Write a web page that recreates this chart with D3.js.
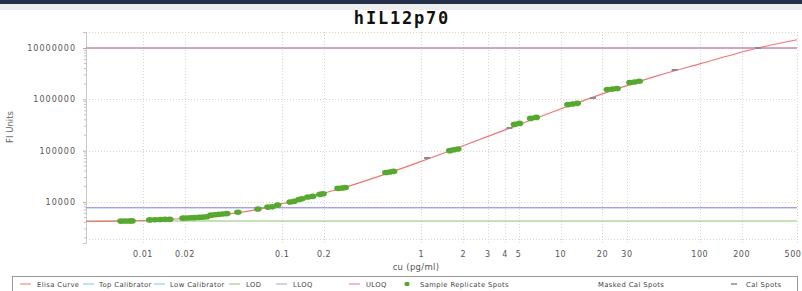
<!DOCTYPE html>
<html>
<head>
<meta charset="utf-8">
<script src="https://cdn.jsdelivr.net/npm/d3@7"></script>
<style>
  body { margin: 0; background: #fff; }
  svg { display: block; }
</style>
</head>
<body>
<div id="chart"></div>
<script>
'use strict';
// ---- data ----
const title = "hIL12p70";
const xTickValues = [0.01, 0.02, 0.1, 0.2, 1, 2, 3, 4, 5, 10, 20, 30, 100, 200, 500];
const yTickValues = [10000, 100000, 1000000, 10000000];

// fitted elisa curve, sampled (concentration, signal)
const curveConc = [0.0039, 0.008, 0.015, 0.025, 0.04, 0.06, 0.1, 0.15, 0.25, 0.5, 1, 2, 5, 10, 20, 50, 100, 262, 500];
const curveSignal = [4170, 4280, 4560, 5050, 5800, 6800, 9300, 12300, 17500, 32000, 62000, 125000, 320000, 650000, 1280000, 2900000, 4900000, 10000000, 14500000];

// sample replicate spots
const sampleConc = [0.00695, 0.00743, 0.00794, 0.00834,
  0.0112, 0.0122, 0.0133, 0.0144, 0.0156,
  0.0194, 0.0207, 0.0221, 0.0236, 0.0253, 0.0270, 0.0288,
  0.0308, 0.0329, 0.0351, 0.0375, 0.0401,
  0.0481, 0.067, 0.079, 0.085, 0.093, 0.114, 0.122, 0.132, 0.139,
  0.153, 0.166, 0.187, 0.197, 0.252, 0.270, 0.284,
  0.556, 0.593, 0.632, 1.60, 1.71, 1.83,
  4.67, 5.07, 6.1, 6.7, 11.3, 12.2, 13.2,
  21.7, 23.6, 25.5, 31.5, 34.0, 36.8];
const sampleSignal = [4250, 4260, 4270, 4280,
  4480, 4520, 4560, 4590, 4620,
  4850, 4890, 4930, 4970, 5020, 5080, 5150,
  5550, 5650, 5750, 5850, 5950,
  6300, 7310, 7950, 8050, 8740, 10000, 10300, 11200, 11600,
  12500, 12900, 14100, 14500, 18400, 18800, 19200,
  37500, 38400, 39500, 100000, 104000, 108000,
  325000, 340000, 425000, 445000, 790000, 811000, 835000,
  1550000, 1590000, 1630000, 2120000, 2180000, 2250000];

// calibrator spots
const calConc = [1.1, 4.3, 17.1, 66, 262];
const calSignal = [72000, 277000, 1060000, 3730000, 10000000];

// horizontal limits
const limitNames = ["Top Calibrator", "Low Calibrator", "ULOQ", "LLOQ", "LOD"];
const limitValues = [10000000, 7750, 10000000, 7750, 4270];

const legendNames = ["Elisa Curve", "Top Calibrator", "Low Calibrator", "LOD", "LLOQ", "ULOQ",
  "Sample Replicate Spots", "Masked Cal Spots", "Cal Spots"];

// ---- styles ----
const colors = {
  "Elisa Curve": "#f07474",
  "Top Calibrator": "#7cc8e8",
  "Low Calibrator": "#7cc8e8",
  "LOD": "#8cc46c",
  "LLOQ": "#aa9eea",
  "ULOQ": "#ea6f9a",
  "Sample Replicate Spots": "#56a92e",
  "Masked Cal Spots": "none",
  "Cal Spots": "#8a8a8a"
};

let width = 802, height = 291;
let mLeft = 86, mRight = 797, mTop = 32, mBottom = 243;

let svg = d3.select("#chart").append("svg")
  .attr("width", width)
  .attr("height", height)
  .style("font-family", "'DejaVu Sans', sans-serif");

// screenshot band at the top
svg.append("rect").attr("x", 0).attr("y", 0).attr("width", width).attr("height", 4).attr("fill", "#24304a");
svg.append("rect").attr("x", 0).attr("y", 4).attr("width", width).attr("height", 6).attr("fill", "#ededf0");

let x = d3.scaleLog().domain([0.0039, 500]).range([mLeft, mRight]);
let y = d3.scaleLog().domain([1590, 20500000]).range([mBottom, mTop]);

// grid
let grid = svg.append("g").attr("stroke", "#d4d4d4").attr("stroke-width", 1).attr("stroke-dasharray", "1,2");
grid.selectAll("line.v").data(xTickValues).enter().append("line")
  .attr("x1", d => Math.round(x(d)) + 0.5).attr("x2", d => Math.round(x(d)) + 0.5)
  .attr("y1", mTop).attr("y2", mBottom);
grid.selectAll("line.h").data(yTickValues).enter().append("line")
  .attr("x1", mLeft).attr("x2", mRight)
  .attr("y1", d => Math.round(y(d)) + 0.5).attr("y2", d => Math.round(y(d)) + 0.5);
grid.append("line").attr("x1", mLeft).attr("x2", mRight).attr("y1", mTop + 0.5).attr("y2", mTop + 0.5);
grid.append("line").attr("x1", mLeft).attr("x2", mRight).attr("y1", mBottom - 3.5).attr("y2", mBottom - 3.5);

// y axis
let yAxis = d3.axisLeft(y).tickValues(yTickValues).tickSize(3).tickFormat(d3.format("d"));
let yg = svg.append("g").attr("transform", "translate(" + [mLeft, 0] + ")").call(yAxis);
yg.select(".domain").attr("stroke", "#c8c8c8");
yg.selectAll(".tick line").attr("stroke", "#b0b0b0");
yg.selectAll(".tick text").attr("font-size", 8).attr("fill", "#555").attr("letter-spacing", 1)
  .attr("font-family", "'DejaVu Sans', sans-serif").attr("x", -10);
// minor ticks on the y axis
let minorY = y.ticks().filter(d => yTickValues.indexOf(d) < 0);
svg.append("g").selectAll("line").data(minorY).enter().append("line")
  .attr("x1", mLeft - 2).attr("x2", mLeft)
  .attr("y1", d => y(d)).attr("y2", d => y(d))
  .attr("stroke", "#c0c0c0");

// x axis labels (no line); the last one is kept inside the window
svg.append("g").selectAll("text").data(xTickValues).enter().append("text")
  .attr("x", d => Math.min(x(d), width - 9)).attr("y", 257)
  .attr("text-anchor", "middle").attr("font-size", 8).attr("fill", "#555")
  .attr("letter-spacing", 0.5)
  .text(d => d);

svg.append("text").attr("x", 416).attr("y", 270).attr("text-anchor", "middle")
  .attr("font-size", 8.5).attr("fill", "#555").attr("letter-spacing", 0.3).text("cu (pg/ml)");
svg.append("text").attr("transform", "translate(13,127) rotate(-90)").attr("text-anchor", "middle")
  .attr("font-size", 8.5).attr("fill", "#666").text("FI Units");

// title
svg.append("text").attr("x", 402).attr("y", 24).attr("text-anchor", "middle")
  .attr("font-family", "'DejaVu Sans Mono', monospace").attr("font-weight", "bold")
  .attr("font-size", 17).attr("letter-spacing", 1.8).attr("fill", "#111").text(title);

// limit lines
let plot = svg.append("g");
plot.selectAll("line.limit").data(limitNames).enter().append("line")
  .attr("x1", mLeft).attr("x2", mRight)
  .attr("y1", (d, i) => y(limitValues[i])).attr("y2", (d, i) => y(limitValues[i]))
  .attr("stroke", d => colors[d]).attr("stroke-width", 1.2);

// elisa curve
let curvePts = curveConc.map((c, i) => [c, curveSignal[i]]);
let line = d3.line().x(d => x(d[0])).y(d => y(d[1])).curve(d3.curveMonotoneX);
plot.append("path").attr("d", line(curvePts)).attr("fill", "none")
  .attr("stroke", colors["Elisa Curve"]).attr("stroke-width", 1.2);

// cal spots
plot.selectAll("line.cal").data(calConc).enter().append("line")
  .attr("x1", d => x(d) - 3).attr("x2", d => x(d) + 3)
  .attr("y1", (d, i) => y(calSignal[i])).attr("y2", (d, i) => y(calSignal[i]))
  .attr("stroke", colors["Cal Spots"]).attr("stroke-width", 2);

// sample spots
plot.selectAll("ellipse").data(sampleConc).enter().append("ellipse")
  .attr("cx", d => x(d)).attr("cy", (d, i) => y(sampleSignal[i]))
  .attr("rx", 3.8).attr("ry", 2.8)
  .attr("fill", colors["Sample Replicate Spots"]);

// legend: marker x and text x for each entry
let legendMarkX = [20, 83, 154, 229, 276, 349, 407, 0, 731];
let legendTextX = [37, 99, 170, 246, 293, 366, 420, 598, 746];
let lg = svg.append("g");
lg.append("rect").attr("x", 12.5).attr("y", 276.5).attr("width", 785).attr("height", 16)
  .attr("fill", "#fff").attr("stroke", "#999");
legendNames.forEach(function (name, i) {
  let lx = legendMarkX[i];
  if (name === "Sample Replicate Spots") {
    lg.append("ellipse").attr("cx", lx).attr("cy", 284).attr("rx", 2.6).attr("ry", 2.2).attr("fill", colors[name]);
  } else if (name === "Cal Spots") {
    lg.append("line").attr("x1", lx).attr("x2", lx + 6).attr("y1", 284).attr("y2", 284)
      .attr("stroke", colors[name]).attr("stroke-width", 1.5);
  } else if (name !== "Masked Cal Spots") {
    lg.append("line").attr("x1", lx).attr("x2", lx + 11).attr("y1", 284).attr("y2", 284)
      .attr("stroke", colors[name]).attr("stroke-width", 1);
  }
  lg.append("text").attr("x", legendTextX[i]).attr("y", 287).attr("font-size", 6.8).attr("letter-spacing", 0.4)
    .attr("fill", "#444").text(name);
});
</script>
</body>
</html>
